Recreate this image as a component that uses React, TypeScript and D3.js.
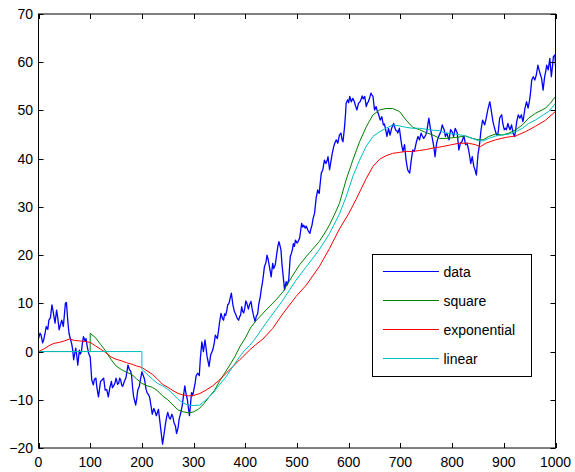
import React, { useEffect, useRef } from 'react';
import * as d3 from 'd3';

// noisy series as [x, y]
const rawData: [number, number][] = [
  [0, 2.7], [3, 3.8], [5, 3.4], [8, 1.8], [10, 2.4], [13, 4], [15, 5.2], [18, 4.6], [20, 6.5], [23, 7], [26, 9.7], [28, 8.5],
  [30, 7.2], [32, 5.9], [35, 8.6], [37, 7.2], [40, 4.5], [43, 5.8], [45, 6.5], [48, 5.2], [50, 7.5], [52, 10.0], [54, 10.2],
  [57, 5.9], [59, 3.8], [62, 2.5], [64, 1.7], [66, 0.5], [68, -1.7], [70, -0.5], [72, 0.7], [74, -0.8], [76, -2.8], [79, 0.3],
  [81, -0.5], [83, 0], [85, 1.8], [87, 3.1], [90, 2.2], [92, 2.7], [94, 1.2], [97, -0.4], [100, -1.1], [103, -5.9], [106, -6.9],
  [108, -5.8], [111, -5.5], [113, -7.5], [116, -9.4], [118, -7.8], [120, -6.2], [123, -5.9], [126, -5.5], [129, -8.0],
  [132, -7.9], [135, -9.4], [138, -7.5], [141, -6.2], [143, -7.5], [145, -7.2], [148, -6.5], [150, -5.5], [153, -6.8],
  [155, -6.6], [157, -5.5], [159, -5.9], [161, -7.0], [163, -7.2], [166, -6.2], [169, -5.5], [171, -4.2], [173, -2.8],
  [176, -3.8], [178, -4.0], [180, -4.9], [182, -7.5], [184, -9.4], [186, -10.2], [188, -11.1], [190, -9.8], [192, -8.0],
  [195, -7.2], [197, -5.9], [200, -4.2], [202, -4.8], [205, -5.7], [208, -7.8], [210, -8.5], [213, -9.0], [215, -9.5],
  [218, -11.5], [220, -13], [223, -11.8], [225, -12.3], [228, -13.3], [230, -12.6], [232, -12], [235, -14.7], [238, -17.5],
  [240, -19.2], [243, -17], [245, -15.4], [248, -13.5], [250, -12.6], [253, -13.8], [255, -14], [258, -13], [260, -13.6],
  [262, -14.7], [265, -15.5], [267, -17], [270, -15.8], [272, -14], [275, -12.8], [278, -11.2], [280, -9.5], [283, -7.1],
  [285, -8.5], [288, -10], [290, -11.8], [292, -13.3], [294, -11], [296, -8.5], [298, -9.2], [300, -8.2], [303, -6.5],
  [305, -5], [308, -4.5], [311, -5], [313, -1.5], [316, 2], [319, 0], [322, 2.4], [324, 0.8], [326, -1], [330, -3.1],
  [333, -0.7], [337, 0.3], [340, 1.8], [342, 3.4], [346, 2.7], [348, 4.2], [350, 5.9], [353, 7.9], [356, 6.8], [358, 6.5],
  [360, 7.8], [362, 7.5], [364, 8.4], [366, 9.7], [368, 9.9], [370, 10.7], [373, 12.1], [376, 9.7], [379, 8.3], [382, 7.6],
  [384, 7.0], [387, 6.5], [389, 7.2], [391, 7.6], [393, 9.3], [395, 8.3], [397, 8.0], [399, 9.0], [401, 10.5], [403, 10.0],
  [406, 8.8], [408, 9.7], [411, 10.4], [413, 9.0], [415, 7.9], [417, 7.0], [419, 6.2], [421, 7.2], [424, 7.9], [426, 9.8],
  [429, 11.4], [431, 13.0], [433, 14.2], [435, 15.8], [437, 17.6], [440, 18.5], [442, 20.0], [444, 19.2], [446, 18.0],
  [448, 16.8], [450, 15.5], [453, 18.3], [455, 17.2], [458, 18.0], [461, 20.4], [463, 21.8], [465, 22.8], [467, 22.0],
  [469, 21.1], [471, 18.0], [473, 15.9], [476, 12.8], [479, 14.5], [481, 13.8], [484, 14.9], [487, 19.7], [489, 20.3],
  [491, 21.1], [493, 22.4], [495, 21.8], [497, 23.1], [500, 22.5], [502, 22.8], [505, 23.5], [507, 25.0], [509, 26.6],
  [511, 25.8], [513, 26.2], [516, 25.6], [518, 26.0], [521, 25.2], [523, 24.8], [525, 24.5], [527, 25.5], [529, 26.2],
  [531, 27.5], [534, 28.7], [537, 31.8], [540, 33.5], [543, 32.8], [545, 35.0], [547, 37.0], [550, 37.7], [553, 39.7],
  [556, 39.0], [558, 39.5], [560, 40.4], [563, 37.7], [566, 39.7], [568, 41.0], [571, 42.5], [573, 43.2], [576, 43.9],
  [579, 43.2], [582, 44.9], [585, 45.3], [587, 44.0], [589, 43.5], [592, 46.6], [594, 49.5], [595, 51.5], [598, 52.2],
  [600, 51.6], [602, 52.9], [605, 51.8], [608, 52.5], [611, 51.8], [613, 51.0], [616, 50.1], [619, 51.5], [622, 51.8],
  [624, 52.3], [626, 53.0], [628, 52.4], [631, 52.9], [634, 50.8], [636, 51.5], [638, 51.8], [641, 52.8], [643, 53.6],
  [645, 53.2], [647, 52.9], [650, 50.1], [653, 50.8], [655, 50.0], [658, 49.1], [661, 48.0], [664, 48.7], [667, 47.0],
  [669, 47.2], [671, 46.3], [674, 44.6], [677, 46.3], [680, 44.9], [683, 46.3], [685, 46.8], [687, 47.3], [689, 46.5],
  [691, 45.9], [693, 45.8], [695, 45.3], [698, 46.3], [701, 43.9], [703, 42.5], [705, 41.5], [708, 42.9], [711, 39.7],
  [714, 37.7], [716, 37.3], [718, 37.0], [721, 39.7], [724, 41.8], [727, 41.5], [729, 42.5], [731, 43.5], [734, 44.6],
  [737, 43.9], [740, 45.3], [742, 44.8], [745, 44.2], [747, 44.5], [749, 44.9], [751, 45.6], [753, 47.0], [755, 48.4],
  [758, 46.3], [761, 44.6], [763, 43.5], [765, 42.2], [767, 40.4], [770, 43.2], [772, 44.0], [774, 44.6], [777, 45.3],
  [779, 46.0], [781, 47.0], [783, 46.4], [785, 45.9], [787, 44.6], [790, 45.3], [792, 44.5], [794, 43.9], [797, 46.0],
  [800, 45.6], [803, 44.6], [806, 46.3], [808, 45.8], [810, 45.3], [813, 41.8], [816, 43.2], [819, 43.5], [821, 44.2],
  [823, 44.6], [826, 42.9], [829, 43.2], [832, 41.8], [834, 40.5], [836, 39.0], [839, 40.4], [842, 38.4], [844, 37.8],
  [847, 36.6], [850, 40.8], [853, 42.9], [856, 46.0], [859, 48.0], [861, 47.5], [863, 47.0], [866, 48.4], [869, 50.1],
  [871, 51.0], [873, 51.8], [876, 49.8], [879, 47.7], [881, 46.8], [883, 46.0], [886, 44.9], [889, 45.3], [892, 48.4],
  [894, 48.8], [896, 49.1], [898, 47.3], [901, 46.0], [903, 46.3], [905, 46.0], [908, 47.3], [910, 46.5], [912, 46.0],
  [915, 47.0], [918, 45.3], [921, 44.6], [923, 46.0], [925, 47.7], [928, 49.1], [931, 48.4], [934, 49.1], [937, 47.7],
  [939, 49.0], [941, 50.5], [944, 51.8], [947, 50.5], [950, 52.2], [952, 54.0], [954, 56.3], [957, 57.0], [960, 56.3],
  [963, 57.4], [966, 59.4], [968, 58.5], [970, 57.7], [973, 56.7], [976, 54.2], [979, 57.0], [981, 58.0], [983, 59.4],
  [986, 58.4], [989, 60.8], [992, 57.0], [994, 59.0], [996, 61.2], [999, 61.5], [1000, 59.1],
];

const squareData: [number, number][] = [
  [0, 0], [100, 0], [100, 3.8], [110, 2.9], [120, 1.5], [130, 0.1], [140, -1.6], [150, -3.0], [160, -3.7], [170, -4.3],
  [180, -4.7], [190, -5.7], [200, -6.6], [210, -7.1], [220, -7.4], [230, -8.1], [240, -9.2], [250, -10], [260, -11.1],
  [270, -12.1], [280, -12.5], [290, -12.7], [300, -12.5], [310, -11.9], [320, -10.8], [330, -9.4], [340, -8.1], [350, -6.2],
  [360, -4.5], [370, -2.8], [380, -1.0], [390, 1.1], [400, 2.8], [410, 4.9], [420, 6.3], [440, 8.6], [460, 10.8],
  [473, 12.4], [490, 15.5], [505, 18.0], [518, 19.7], [530, 21.2], [543, 22.8], [555, 24.8], [563, 26.3], [572, 28.3],
  [582, 30.7], [595, 35.6], [608, 39.7], [621, 43.5], [634, 46.6], [647, 49.1], [660, 50.1], [672, 50.4], [685, 50.4],
  [698, 49.8], [711, 48.0], [724, 46.5], [737, 46.0], [750, 45.4], [763, 44.9], [776, 44.2], [787, 44.2], [807, 44.4],
  [826, 44.7], [839, 44.2], [852, 43.9], [860, 43.9], [871, 44.6], [884, 45.1], [897, 44.9], [910, 45.3], [923, 46.0],
  [936, 47.0], [948, 48.4], [961, 49.4], [974, 50.1], [981, 50.5], [990, 51.5], [1000, 52.9],
];

const expData: [number, number][] = [
  [0, 0], [10, 0.5], [20, 1.2], [30, 1.7], [40, 1.9], [50, 2.2], [60, 2.6], [70, 2.3], [80, 2.2], [90, 2.1], [100, 1.9],
  [110, 1.2], [120, 0.5], [130, -0.2], [140, -1.1], [150, -1.6], [160, -1.9], [170, -2.3], [180, -2.6], [190, -3.0],
  [200, -3.3], [210, -4.0], [220, -4.7], [230, -5.7], [240, -6.8], [250, -7.4], [260, -8.1], [270, -8.7], [280, -9.0],
  [290, -9.2], [300, -9.1], [312, -8.7], [324, -8.0], [337, -7.1], [350, -5.9], [363, -4.5], [376, -3.1], [389, -1.7],
  [399, -0.7], [408, 0.3], [420, 1.4], [434, 2.6], [453, 4.8], [473, 7.9], [498, 11.4], [518, 13.8], [543, 17.6],
  [563, 21.4], [582, 25.4], [600, 28.6], [614, 31.5], [634, 35.9], [647, 38.4], [660, 39.9], [672, 40.6], [685, 41.1],
  [698, 41.3], [711, 41.5], [724, 41.5], [737, 41.7], [750, 41.9], [763, 42.2], [776, 42.4], [795, 42.8], [813, 43.2],
  [832, 43.2], [845, 42.9], [855, 42.5], [865, 43.2], [884, 43.9], [903, 44.4], [923, 44.7], [942, 45.6], [961, 46.7],
  [981, 48.0], [1000, 49.8],
];

const linearData: [number, number][] = [
  [0, 0], [200, 0], [200, -3.7], [210, -4.7], [220, -5.7], [230, -6.6], [240, -7.1], [250, -7.8], [260, -8.8], [270, -9.9],
  [280, -10.7], [290, -11.1], [300, -11.2], [312, -11.1], [324, -10.0], [337, -8.7], [350, -6.9], [363, -5.2], [376, -3.1],
  [389, -1.1], [399, 0.3], [408, 1.2], [418, 2.5], [440, 5.9], [473, 10.7], [498, 14.8], [518, 17.6], [543, 21.1],
  [563, 24.5], [582, 28.5], [595, 32.1], [608, 36.3], [621, 39.7], [634, 42.6], [647, 44.6], [660, 45.6], [672, 46.3],
  [685, 47.0], [698, 46.8], [711, 46.5], [724, 46.3], [737, 46.3], [750, 46.1], [763, 45.9], [776, 45.8], [787, 45.3],
  [807, 45.1], [826, 44.7], [839, 44.2], [852, 43.7], [860, 43.7], [871, 44.2], [884, 44.7], [897, 44.9], [910, 45.1],
  [923, 45.6], [936, 46.3], [948, 47.3], [961, 48.0], [974, 48.9], [987, 49.8], [1000, 51.5],
];

const seriesNames = ['data', 'square', 'exponential', 'linear'];
const seriesColors = ['#0000ff', '#008000', '#ff0000', '#00bfbf'];
const xTicks = [0, 100, 200, 300, 400, 500, 600, 700, 800, 900, 1000];
const yTicks = [-20, -10, 0, 10, 20, 30, 40, 50, 60, 70];

const W = 575, H = 472;
const FONT = '"Liberation Sans", Arial, Helvetica, sans-serif';

export default function App() {
  const ref = useRef<SVGSVGElement>(null);

  useEffect(() => {
    const svg = d3.select(ref.current);
    svg.selectAll('*').remove();

    const x = d3.scaleLinear([0, 1000], [38.5, 555.5]);
    const y = d3.scaleLinear([-20, 70], [448, 14]);
    const [x0, x1] = x.range();
    const [yb, yt] = y.range();

    svg.append('rect').attr('width', W).attr('height', H).attr('fill', '#fff');

    const line = d3.line<[number, number]>().x(d => x(d[0])).y(d => y(d[1]));
    const allSeries = [rawData, squareData, expData, linearData];
    const g = svg.append('g');
    allSeries.forEach((s, i) => {
      g.append('path')
        .attr('d', line(s))
        .attr('fill', 'none')
        .attr('stroke', seriesColors[i])
        .attr('stroke-width', i === 0 ? 1.3 : 1)
        .attr('stroke-linejoin', 'round');
    });

    // box + inward ticks on all four sides
    const ax = svg.append('g').attr('stroke', '#000').attr('stroke-width', 1);
    ax.append('rect')
      .attr('x', x0).attr('y', yt).attr('width', x1 - x0).attr('height', yb - yt)
      .attr('fill', 'none');
    const tl = 5;
    xTicks.forEach(t => {
      const px = Math.round(x(t)) + 0.5;
      ax.append('line').attr('x1', px).attr('x2', px).attr('y1', yb).attr('y2', yb - tl);
      ax.append('line').attr('x1', px).attr('x2', px).attr('y1', yt).attr('y2', yt + tl);
    });
    yTicks.forEach(t => {
      const py = Math.round(y(t)) + 0.5;
      ax.append('line').attr('x1', x0).attr('x2', x0 + tl).attr('y1', py).attr('y2', py);
      ax.append('line').attr('x1', x1).attr('x2', x1 - tl).attr('y1', py).attr('y2', py);
    });

    const fmt = (v: number) => (v < 0 ? '\u2212' + Math.abs(v) : String(v));
    svg.append('g').selectAll('text').data(xTicks).join('text')
      .attr('x', d => x(d)).attr('y', 467)
      .attr('text-anchor', 'middle')
      .attr('font-family', FONT).attr('font-size', 14)
      .text(d => fmt(d));
    svg.append('g').selectAll('text').data(yTicks).join('text')
      .attr('x', 33).attr('y', d => y(d) + 5)
      .attr('text-anchor', 'end')
      .attr('font-family', FONT).attr('font-size', 14)
      .text(d => fmt(d));

    // legend
    const lg = svg.append('g').attr('transform', 'translate(372,254)');
    lg.append('rect').attr('x', 0.5).attr('y', 0.5).attr('width', 159).attr('height', 122)
      .attr('fill', '#fff').attr('stroke', '#000');
    seriesNames.forEach((name, i) => {
      const ry = 17.5 + i * 29;
      lg.append('line').attr('x1', 11).attr('x2', 67).attr('y1', ry).attr('y2', ry)
        .attr('stroke', seriesColors[i]).attr('stroke-width', 1);
      lg.append('text').attr('x', 71.5).attr('y', ry + 5)
        .attr('font-family', FONT).attr('font-size', 14)
        .text(name);
    });
  }, []);

  return (
    <svg ref={ref} width={W} height={H} style={{ position: 'absolute', left: 0, top: 0 }} />
  );
}
